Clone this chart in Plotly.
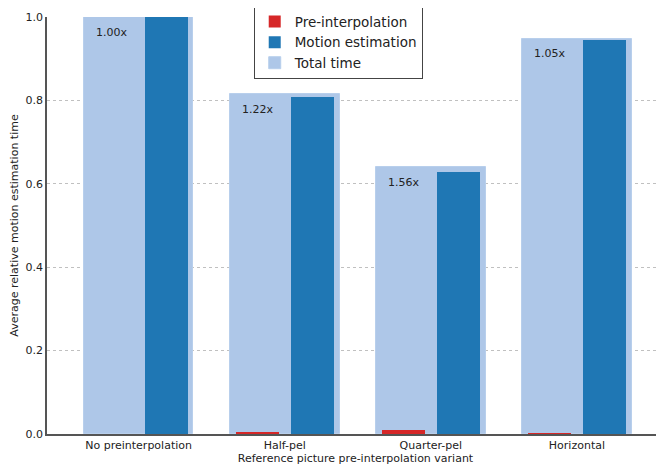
import plotly.graph_objects as go

categories = ["No preinterpolation", "Half-pel", "Quarter-pel", "Horizontal"]
pre_interp = [0.0, 0.006, 0.010, 0.002]
motion_est = [1.0, 0.808, 0.628, 0.946]
total_time = [1.0, 0.815, 0.640, 0.948]
speedup_labels = ["1.00x", "1.22x", "1.56x", "1.05x"]

xpos = list(range(len(categories)))
font = "DejaVu Sans, sans-serif"

fig = go.Figure()
fig.add_trace(go.Bar(
    x=xpos, y=total_time, name="Total time",
    marker=dict(color="#aec7e8", line=dict(color="#b8cfec", width=1)),
    width=0.75, offset=-0.375, legendrank=3,
))
fig.add_trace(go.Bar(
    x=xpos, y=pre_interp, name="Pre-interpolation",
    marker=dict(color="#d62728", line=dict(width=0)),
    width=0.295, offset=-0.336, legendrank=1,
))
fig.add_trace(go.Bar(
    x=xpos, y=motion_est, name="Motion estimation",
    marker=dict(color="#1f77b4", line=dict(width=0)),
    width=0.295, offset=0.041, legendrank=2,
))

for i, (t, lab) in enumerate(zip(total_time, speedup_labels)):
    fig.add_annotation(x=xpos[i], y=t, text=lab, showarrow=False,
                       xshift=-27, yshift=-15, yanchor="middle",
                       font=dict(family=font, size=11, color="#222"))

# page body has an 8px margin, so the figure is sized to fit the window
fig.update_layout(
    width=656, height=460,
    margin=dict(l=39, r=0, t=9, b=34, autoexpand=False),
    barmode="overlay",
    bargap=0,
    plot_bgcolor="white", paper_bgcolor="white",
    font=dict(family=font, size=11, color="#222"),
    showlegend=True,
    legend=dict(
        x=0.472, y=1.028, xanchor="center", yanchor="top",
        bgcolor="white", bordercolor="#444", borderwidth=1,
        font=dict(family=font, size=13.5, color="#222"),
        itemwidth=30, tracegroupgap=0,
    ),
    xaxis=dict(
        range=[-0.627, 3.596], automargin=False,
        tickvals=xpos, ticktext=categories,
        showgrid=False, zeroline=False,
        showline=True, linecolor="#555", linewidth=1.5,
        ticks="", tickfont=dict(size=11),
        title=dict(text="Reference picture pre-interpolation variant",
                   font=dict(size=11), standoff=3),
    ),
    yaxis=dict(
        range=[0, 1.0], automargin=False,
        tickvals=[0, 0.2, 0.4, 0.6, 0.8, 1.0], tickformat=".1f",
        showgrid=True, gridcolor="#c0c0c0", griddash="dot", gridwidth=1,
        zeroline=False,
        showline=True, linecolor="#555", linewidth=1.5,
        ticks="", tickfont=dict(size=11),
        title=dict(text="Average relative motion estimation time",
                   font=dict(size=11), standoff=6),
    ),
)

fig.write_html("out.html")
